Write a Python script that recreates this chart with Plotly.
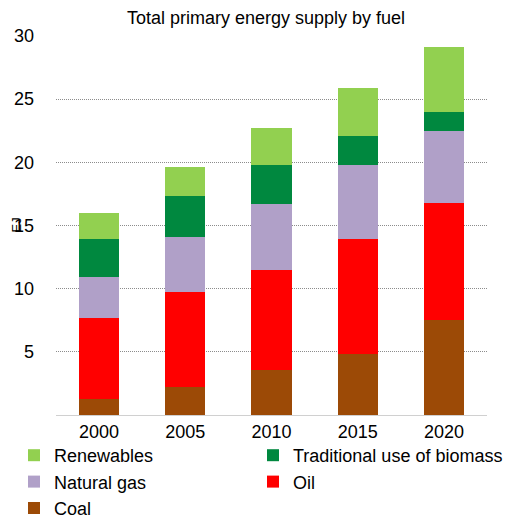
import plotly.graph_objects as go

years = ["2000", "2005", "2010", "2015", "2020"]
coal = [1.27, 2.2, 3.57, 4.84, 7.54]
oil = [6.43, 7.56, 7.93, 9.06, 9.26]
natural_gas = [3.2, 4.34, 5.2, 5.9, 5.7]
biomass = [3.0, 3.2, 3.1, 2.3, 1.5]
renewables = [2.1, 2.3, 2.9, 3.8, 5.1]
y_ticks = [5, 10, 15, 20, 25, 30]

series = [
    ("Coal", coal, "#9C4A06", "legend"),
    ("Oil", oil, "#FF0000", "legend2"),
    ("Natural gas", natural_gas, "#B0A0C8", "legend"),
    ("Traditional use of biomass", biomass, "#00883F", "legend2"),
    ("Renewables", renewables, "#92D050", "legend"),
]

# the page body adds an 8px offset, so the figure is sized to fit the window
W, H = 509, 512
L, R, T, B = 48, 30, 28, 105
plot_w = W - L - R
plot_h = H - T - B

fig = go.Figure()
for name, vals, color, lg in series:
    fig.add_trace(go.Bar(
        x=years, y=vals, name=name, legend=lg,
        marker=dict(color=color, line=dict(width=0)),
    ))

legend_top = -(429 - (H - B)) / plot_h
legend_common = dict(orientation="v", traceorder="reversed", yanchor="top", y=legend_top,
                     xanchor="left", font=dict(size=18), itemwidth=30,
                     bgcolor="rgba(0,0,0,0)")

fig.update_layout(
    barmode="stack",
    bargap=0.535,
    width=W, height=H,
    margin=dict(l=L, r=R, t=T, b=B, autoexpand=False),
    paper_bgcolor="white", plot_bgcolor="white",
    font=dict(family="Liberation Sans, Arial, sans-serif", color="black"),
    title=dict(text="Total primary energy supply by fuel", x=258 / W, xanchor="center",
               xref="container", y=1 - 10 / H, yanchor="middle",
               font=dict(size=18, color="black")),
    xaxis=dict(showgrid=False, showline=True, linecolor="#D0D0D0", linewidth=1,
               ticks="", tickfont=dict(size=18), automargin=False),
    yaxis=dict(range=[0, 30], tickvals=y_ticks, showgrid=True, gridcolor="#8C8C8C",
               griddash="1px,1px", gridwidth=1, zeroline=False, showline=False,
               tickfont=dict(size=18), ticklabelstandoff=21, automargin=False),
    legend=dict(x=(6 - L) / plot_w, **legend_common),
    legend2=dict(x=(245 - L) / plot_w, **legend_common),
    showlegend=True,
    annotations=[dict(text="EJ", textangle=-90, xref="paper", yref="paper",
                      x=(7.5 - L) / plot_w, y=(H - B - 225 + 8) / plot_h,
                      xanchor="center", yanchor="middle",
                      showarrow=False, font=dict(size=13, color="black"))],
)

fig.write_html("out.html")
